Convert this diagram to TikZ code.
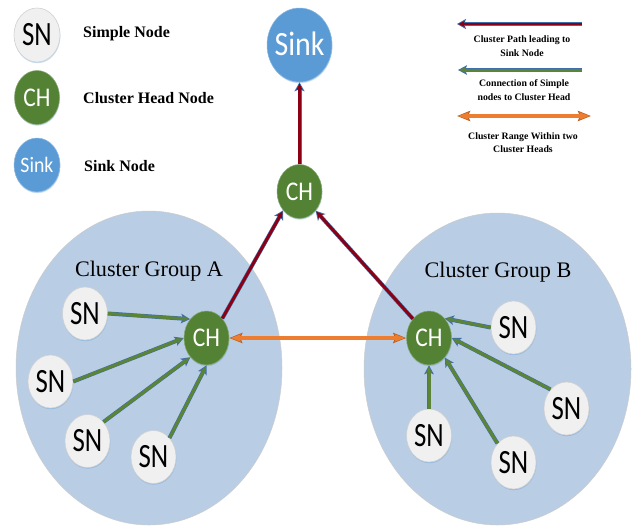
\documentclass[tikz,border=0pt]{standalone}
\usepackage{fontspec}
\setmainfont{Liberation Serif}
\newfontfamily\calfont{Carlito}
\usetikzlibrary{shapes.geometric,arrows.meta,shadows}
\definecolor{snfill}{HTML}{F0F0F0}
\definecolor{chfill}{HTML}{548235}
\definecolor{sinkfill}{HTML}{5B9BD5}
\definecolor{group}{HTML}{B9CDE5}
\definecolor{pathblue}{HTML}{3F6FA8}
\definecolor{pathred}{HTML}{8B0015}
\definecolor{conngreen}{HTML}{5B8436}
\definecolor{rangeor}{HTML}{ED7D31}
\definecolor{rangedk}{HTML}{B85F20}
\newcommand{\lbl}[2]{\makebox[0pt]{\raisebox{-0.322em}[0pt][0pt]{\scalebox{#1}[1]{#2}}}}
\tikzset{
 x=1pt,y=-1pt,
 softshadow/.style={drop shadow={shadow xshift=.4pt,shadow yshift=-1.2pt,fill=sinkfill,opacity=.35}},
 nodebase/.style={ellipse,inner sep=0pt,softshadow},
 sn/.style={nodebase,fill=snfill,draw=black!18,line width=.6pt,text=black,minimum width=45pt,minimum height=53pt,font=\calfont\fontsize{34}{34}\selectfont},
 ch/.style={nodebase,fill=chfill,draw=chfill!70!white,line width=.5pt,text=white,minimum width=45pt,minimum height=54pt,font=\calfont\fontsize{27}{27}\selectfont},
 sink/.style={nodebase,fill=sinkfill,draw=sinkfill!70!white,line width=.5pt,text=white},
 grp/.style={ellipse,fill=group,draw=black!20,line width=.5pt,inner sep=0pt},
 grplabel/.style={font=\fontsize{22.2}{24}\selectfont,inner sep=0pt},
 leg/.style={font=\bfseries\fontsize{16}{18}\selectfont,inner sep=0pt,anchor=west},
 legsmall/.style={font=\bfseries\fontsize{9.8}{13.3}\selectfont,inner sep=0pt,align=center},
 outerred/.style={draw=pathblue,line width=4pt,-{Stealth[length=9pt,width=10pt,inset=2pt,fill=pathblue]}},
 innerred/.style={draw=pathred,line width=2.9pt,-{Stealth[length=6.5pt,width=6pt,inset=1.5pt,fill=pathred]},shorten >=1.2pt},
 outergreen/.style={draw=pathblue,line width=4pt,-{Stealth[length=9pt,width=9.5pt,inset=2pt,fill=pathblue]}},
 innergreen/.style={draw=conngreen,line width=3pt,-{Stealth[length=6.5pt,width=5.5pt,inset=1.5pt,fill=conngreen]},shorten >=1.2pt},
 outerrange/.style={draw=rangedk,line width=4.8pt,{Stealth[length=13pt,width=10pt,inset=2pt,fill=rangedk]}-{Stealth[length=13pt,width=10pt,inset=2pt,fill=rangedk]}},
 innerrange/.style={draw=rangeor,line width=3.4pt,{Stealth[length=10pt,width=7pt,inset=1.5pt,fill=rangeor]}-{Stealth[length=10pt,width=7pt,inset=1.5pt,fill=rangeor]},shorten >=1.2pt,shorten <=1.2pt},
}
\newcommand{\redarrow}[2]{\draw[outerred] (#1) -- (#2);\draw[innerred] (#1) -- (#2);}
\newcommand{\greenarrow}[2]{\draw[outergreen] (#1) -- (#2);\draw[innergreen] (#1) -- (#2);}
\newcommand{\rangearrow}[2]{\draw[outerrange] (#1) -- (#2);\draw[innerrange] (#1) -- (#2);}
\begin{document}
\begin{tikzpicture}
\useasboundingbox (0,0) rectangle (634,525);
\fill[white] (0,0) rectangle (634,525);
% groups
\node[grp,minimum width=266pt,minimum height=314pt] (grpA) at (149,368) {};
\node[grp,minimum width=267pt,minimum height=312pt] (grpB) at (497.5,369) {};
\node[grplabel] (labA) at (149,271) {Cluster Group A};
\node[grplabel] (labB) at (498,272) {Cluster Group B};
% legend nodes
\node[sn,minimum width=46pt,minimum height=54pt] (lsn) at (37,35) {\lbl{.79}{SN}};
\node[ch] (lch) at (37,97.5) {\lbl{.87}{CH}};
\node[sink,font=\calfont\fontsize{22}{22}\selectfont,minimum width=46pt,minimum height=54pt] (lsink) at (37,165) {\lbl{.9}{Sink}};
\node[leg] (tsn) at (83,33.5) {Simple Node};
\node[leg] (tch) at (83,98) {Cluster Head Node};
\node[leg] (tsink) at (84,166) {Sink Node};
% main nodes
\node[sink,font=\calfont\fontsize{34}{34}\selectfont,minimum width=65pt,minimum height=74pt] (sinkm) at (299.5,45) {\lbl{.88}{Sink}};
\node[ch] (cht) at (299.5,191.5) {\lbl{.87}{CH}};
\node[ch] (cha) at (206.5,338) {\lbl{.87}{CH}};
\node[ch] (chb) at (429,338) {\lbl{.87}{CH}};
\node[sn] (a1) at (85,313.5) {\lbl{.79}{SN}};
\node[sn] (a2) at (50.5,381.5) {\lbl{.79}{SN}};
\node[sn] (a3) at (87.5,441) {\lbl{.79}{SN}};
\node[sn] (a4) at (153.5,457) {\lbl{.79}{SN}};
\node[sn] (b1) at (513.5,327.5) {\lbl{.79}{SN}};
\node[sn] (b2) at (566.5,408.5) {\lbl{.79}{SN}};
\node[sn] (b3) at (429,435.5) {\lbl{.79}{SN}};
\node[sn] (b4) at (513.5,462.5) {\lbl{.79}{SN}};
% connectors
\redarrow{cht.north}{sinkm.south}
\redarrow{cha.51}{cht.229}
\redarrow{chb.130}{cht.-50}
\rangearrow{cha.east}{chb.west}
\greenarrow{a1.east}{cha.131}
\greenarrow{a2.east}{cha.west}
\greenarrow{a3.50}{cha.230}
\greenarrow{a4.50}{cha.south}
\greenarrow{b1.west}{chb.51}
\greenarrow{b2.130}{chb.east}
\greenarrow{b3.north}{chb.south}
\greenarrow{b4.130}{chb.-51}
% legend arrows
\coordinate (r1) at (582,24);
\coordinate (r2) at (457,24);
\coordinate (g1) at (582,70);
\coordinate (g2) at (458,70);
\coordinate (o1) at (457,116);
\coordinate (o2) at (591,116);
\redarrow{r1}{r2}
\greenarrow{g1}{g2}
\rangearrow{o1}{o2}
\node[legsmall] (t1) at (522,46) {Cluster Path leading to\\Sink Node};
\node[legsmall] (t2) at (524,90) {Connection of Simple\\nodes to Cluster Head};
\node[legsmall] (t3) at (523,143) {Cluster Range Within two\\Cluster Heads};
\end{tikzpicture}
\end{document}
